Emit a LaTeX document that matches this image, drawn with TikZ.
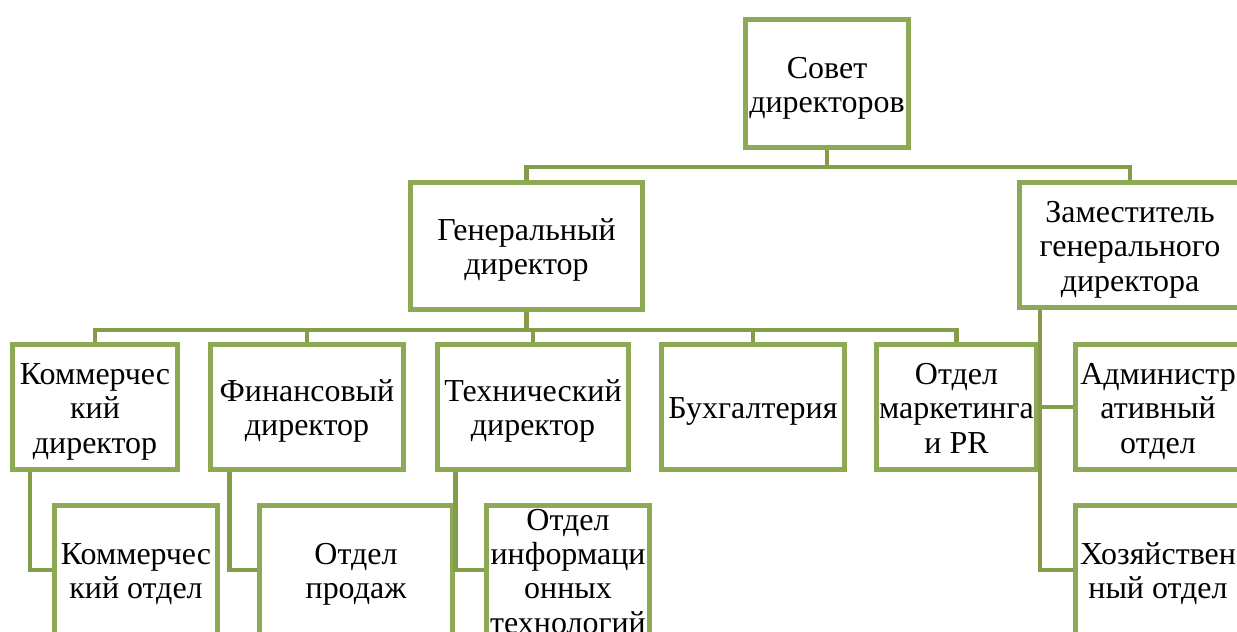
\documentclass[tikz,border=0pt]{standalone}
\usepackage{fontspec}
\setmainfont{Liberation Serif}
\newfontfamily\boxfont{Liberation Serif}
\definecolor{boxgreen}{RGB}{142,169,83}
\definecolor{linegreen}{RGB}{132,157,74}
\newcommand\boxtxt[1]{\rule{0pt}{17.5pt}#1\rule[-3.9pt]{0pt}{0pt}}

\begin{document}
\begin{tikzpicture}[x=0.02cm, y=-0.02cm,
  box/.style={draw=boxgreen, line width=0.1cm, fill=white, align=center,
    inner sep=0pt, font=\boxfont\fontsize{18.2}{19.4}\selectfont},
  conn/.style={draw=linegreen, line width=0.09cm}]

  \useasboundingbox (0,0) rectangle (1237,632);
  \clip (0,0) rectangle (1237,632);

  %niveau 1
	\node[box, minimum width=3.26cm, minimum height=2.56cm] (sovet) at (827,83.5) {\boxtxt{Совет\\директоров}};

  %niveau 2
	\node[box, minimum width=4.64cm, minimum height=2.54cm] (gen) at (526.5,246) {\boxtxt{Генеральный\\директор}};
	\node[box, minimum width=4.42cm, minimum height=2.5cm] (zam) at (1130,245) {\boxtxt{Заместитель\\генерального\\директора}};

  %niveau 3
	\node[box, minimum width=3.3cm, minimum height=2.5cm] (kdir) at (95,407) {\boxtxt{Коммерчес\\кий\\директор}};
	\node[box, minimum width=3.86cm, minimum height=2.5cm] (fdir) at (307,407) {\boxtxt{Финансовый\\директор}};
	\node[box, minimum width=3.82cm, minimum height=2.5cm] (tdir) at (533,407) {\boxtxt{Технический\\директор}};
	\node[box, minimum width=3.66cm, minimum height=2.5cm] (buh) at (753,407) {\boxtxt{Бухгалтерия}};
	\node[box, minimum width=3.2cm, minimum height=2.5cm] (mark) at (956.5,407) {\boxtxt{Отдел\\маркетинга\\и PR}};
	\node[box, minimum width=3.3cm, minimum height=2.5cm] (adm) at (1158,407) {\boxtxt{Администр\\ативный\\отдел}};

  %niveau 4
	\node[box, minimum width=3.26cm, minimum height=2.6cm] (kotd) at (136,570) {\boxtxt{Коммерчес\\кий отдел}};
	\node[box, minimum width=3.86cm, minimum height=2.6cm] (prod) at (356,570) {\boxtxt{Отдел\\продаж}};
	\node[box, minimum width=3.26cm, minimum height=2.6cm, inner ysep=-0.2cm] (it) at (568,570) {\boxtxt{Отдел\\информаци\\онных\\технологий}};
	\node[box, minimum width=3.3cm, minimum height=2.6cm] (hoz) at (1158,570) {\boxtxt{Хозяйствен\\ный отдел}};

  % forbindelser
	\draw[conn] (sovet.south) -- ++(0,17) -| (gen.north);
	\draw[conn] (sovet.south) -- ++(0,17) -| (zam.north);

	\foreach \c in {kdir,fdir,tdir,buh,mark}
		\draw[conn] (gen.south) -- ++(0,18) -| (\c.north);

	\draw[conn] ([xshift=0.4cm]kdir.south west) |- (kotd.west);
	\draw[conn] ([xshift=0.43cm]fdir.south west) |- (prod.west);
	\draw[conn] ([xshift=0.41cm]tdir.south west) |- (it.west);

	\draw[conn] ([xshift=0.46cm]zam.south west) |- (adm.west);
	\draw[conn] ([xshift=0.46cm]zam.south west) |- (hoz.west);

\end{tikzpicture}
\end{document}
